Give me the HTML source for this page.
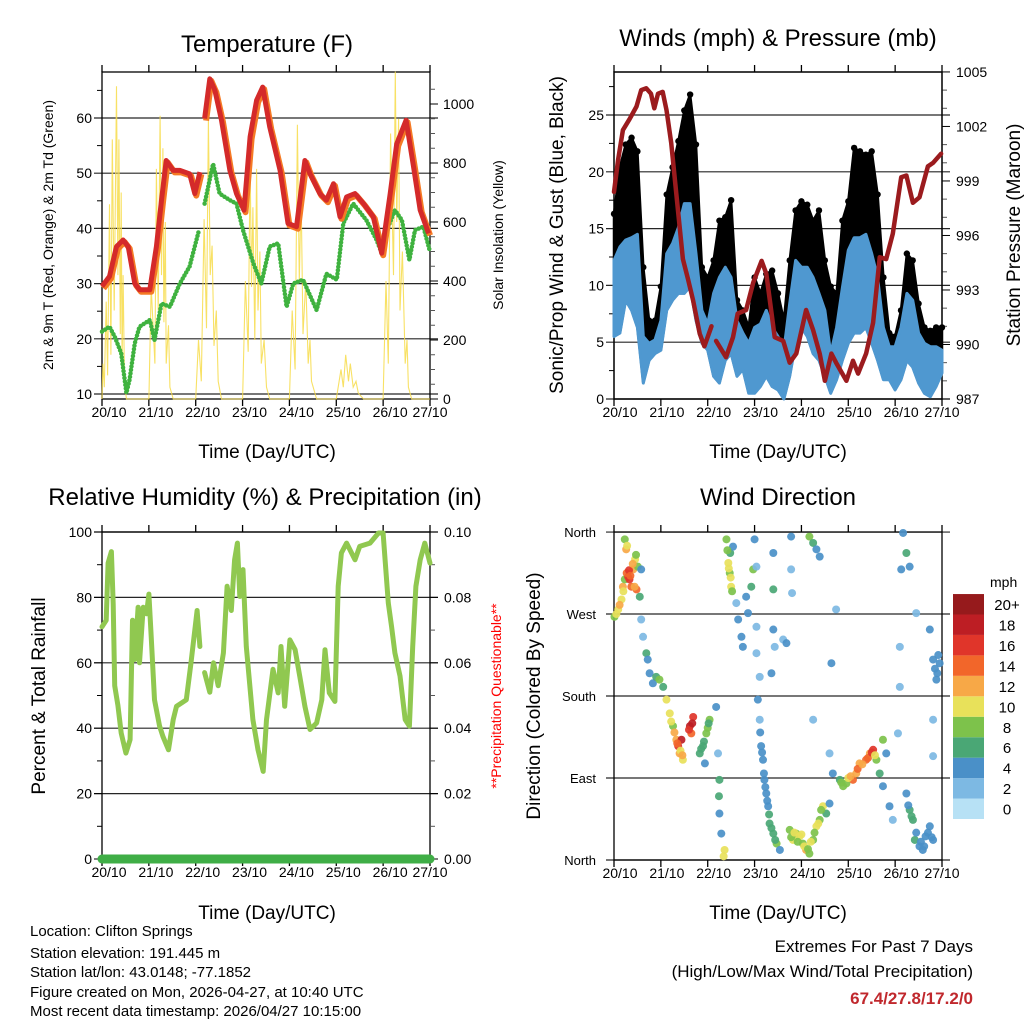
<!DOCTYPE html>
<html><head><meta charset="utf-8">
<style>
html,body{margin:0;padding:0;background:#fff;}
svg{display:block;font-family:"Liberation Sans",Arial,sans-serif;}
</style></head>
<body>
<svg id="fig" width="1024" height="1024" viewBox="0 0 1024 1024" xmlns="http://www.w3.org/2000/svg">
<rect x="0" y="0" width="1024" height="1024" fill="#fff"/>
<g id="layer"></g>
<text x="267" y="52" font-size="24" text-anchor="middle">Temperature (F)</text>
<text x="778" y="46" font-size="24" text-anchor="middle">Winds (mph) &amp; Pressure (mb)</text>
<text x="265" y="505" font-size="24" text-anchor="middle">Relative Humidity (%) &amp; Precipitation (in)</text>
<text x="778" y="505" font-size="24" text-anchor="middle">Wind Direction</text>
<text x="267" y="458" font-size="19" text-anchor="middle">Time (Day/UTC)</text>
<text x="778" y="458" font-size="19" text-anchor="middle">Time (Day/UTC)</text>
<text x="267" y="919" font-size="19" text-anchor="middle">Time (Day/UTC)</text>
<text x="778" y="919" font-size="19" text-anchor="middle">Time (Day/UTC)</text>
<text transform="translate(53,235) rotate(-90)" font-size="14" text-anchor="middle">2m &amp; 9m T (Red, Orange) &amp; 2m Td (Green)</text>
<text transform="translate(503,235) rotate(-90)" font-size="14" text-anchor="middle">Solar Insolation (Yellow)</text>
<text transform="translate(563,235) rotate(-90)" font-size="19" text-anchor="middle">Sonic/Prop Wind &amp; Gust (Blue, Black)</text>
<text transform="translate(1020,235) rotate(-90)" font-size="19" text-anchor="middle">Station Pressure (Maroon)</text>
<text transform="translate(45,696) rotate(-90)" font-size="19" text-anchor="middle">Percent &amp; Total Rainfall</text>
<text transform="translate(501,696) rotate(-90)" font-size="14" fill="#ff0000" text-anchor="middle">**Precipitation Questionable**</text>
<text transform="translate(540,696) rotate(-90)" font-size="19" text-anchor="middle">Direction (Colored By Speed)</text>
<g font-size="15">
<text x="30" y="936">Location: Clifton Springs</text>
<text x="30" y="958">Station elevation: 191.445 m</text>
<text x="30" y="977">Station lat/lon: 43.0148; -77.1852</text>
<text x="30" y="997">Figure created on Mon, 2026-04-27, at 10:40 UTC</text>
<text x="30" y="1016">Most recent data timestamp: 2026/04/27 10:15:00</text>
</g>
<g font-size="17" text-anchor="end">
<text x="973" y="952">Extremes For Past 7 Days</text>
<text x="973" y="977">(High/Low/Max Wind/Total Precipitation)</text>
<text x="973" y="1004" font-weight="bold" fill="#c0282d">67.4/27.8/17.2/0</text>
</g>
</svg>
<script>
// ---------- data ----------
const dayLabels=["20/10","21/10","22/10","23/10","24/10","25/10","26/10","27/10"];
const tempTicks=[10,20,30,40,50,60];
const solarTicks=[0,200,400,600,800,1000];
const windTicks=[0,5,10,15,20,25];
const presTicks=[987,990,993,996,999,1002,1005];
const rhTicks=[0,20,40,60,80,100];
const precipTicks=["0.00","0.02","0.04","0.06","0.08","0.10"];
const dirLabels=["North","East","South","West","North"];
const speedBins=["0","2","4","6","8","10","12","14","16","18","20+"];

const tempT1=[0,.16,.31,.45,.56,.7,.8,1.02,1.16,1.27,1.37,1.52,1.66,1.87,1.98,2.09];
const tempV1=[29.5,31.3,36.7,37.9,36.7,30,28.9,28.9,36.7,45.1,52.3,50.5,50.5,49.9,46.3,50.2];
const tempT2=[2.19,2.3,2.41,2.55,2.73,2.87,3.03,3.16,3.3,3.43,3.58,3.8,3.97,4.15,4.33,4.44,4.65,4.79,4.94,5.08,5.22,5.4,5.58,5.79,5.97,6.15,6.29,6.49,6.65,6.79,6.97];
const tempV2=[59.9,67.1,65,59.6,50.5,46.3,43.3,56.6,63.2,65.6,58.4,50.5,40.9,40.3,52.3,49.9,46.3,45.1,48.1,42.1,45.7,46.3,44.5,42.1,35.5,46.3,55.3,59.6,51.1,43.3,39.1];
const dewT1=[0,.16,.27,.41,.52,.59,.7,.8,1.02,1.12,1.27,1.45,1.66,1.87,2.07];
const dewV1=[21.3,22.2,20.4,17.4,10.2,12.6,19.2,22.2,23.4,19.8,26.4,25.8,30,33.1,39.7];
const dewT2=[2.19,2.37,2.51,2.73,2.87,3.01,3.23,3.4,3.58,3.76,3.94,4.08,4.29,4.58,4.79,5.01,5.15,5.36,5.64,5.86,5.97,6.11,6.25,6.4,6.56,6.68,6.86,6.99];
const dewV2=[44.5,51.7,46.3,45.1,44.5,39.7,33.7,30,36.7,37.3,25.8,30,30.7,25.2,31.8,30.7,40.9,44.5,41.5,37.9,35.5,40.3,43.3,41.5,34.3,39.7,40.3,36.1];
const solarT=[0,.02,.05,.09,.12,.16,.19,.22,.26,.31,.34,.36,.39,.41,.43,.45,.48,.52,
 1.0,1.05,1.13,1.16,1.2,1.24,1.27,1.3,1.32,1.35,1.37,1.42,1.45,1.52,
 2.0,2.06,2.12,2.18,2.23,2.27,2.31,2.35,2.39,2.44,2.48,2.55,
 3.0,3.06,3.12,3.16,3.19,3.22,3.26,3.3,3.33,3.37,3.4,3.46,3.51,3.58,
 4.0,4.06,4.12,4.17,4.21,4.25,4.29,4.35,4.4,4.44,4.47,4.58,
 5.0,5.1,5.15,5.2,5.26,5.3,5.36,5.42,5.47,5.58,
 6.0,6.06,6.11,6.16,6.22,6.26,6.29,6.33,6.36,6.41,6.47,6.51,6.54,6.61,7.0];
const solarV=[0,120,40,330,80,660,150,880,300,1060,420,880,220,700,120,420,60,0,
 0,380,120,780,300,960,420,850,260,600,120,250,40,0,
 0,200,60,610,240,950,420,520,180,300,60,0,
 0,400,160,810,380,650,200,780,300,500,120,200,40,0,
 0,300,100,930,400,700,220,400,120,200,60,0,
 0,100,40,150,60,120,40,60,20,0,
 0,400,120,900,420,1110,600,950,300,500,120,200,40,0,0];

const windT=[0,.125,.25,.375,.5,.625,.75,.875,1,1.125,1.25,1.375,1.5,1.625,1.75,1.875,2,2.125,2.25,2.375,2.5,2.625,2.75,2.875,3,3.125,3.25,3.375,3.5,3.625,3.75,3.875,4,4.125,4.25,4.375,4.5,4.625,4.75,4.875,5,5.125,5.25,5.375,5.5,5.625,5.75,5.875,6,6.125,6.25,6.375,6.5,6.625,6.75,6.875,7];
const gustMax=[16.3,20.4,22.4,23,21.8,11.6,6.9,6.9,9.9,18,20.4,22.7,25.4,26.8,22.4,11.6,10.7,12.2,15.7,16,17.5,8.7,7.8,6.3,10.7,9.3,11,11.3,9.3,6.9,12.2,16.6,17.4,17.1,15.7,16.6,12.2,9.9,9.3,15.7,17.4,22.1,21.8,21.5,21.8,18,10.7,5.8,5.5,7.8,12.8,12.2,8.4,6.3,6,6.3,6.3];
const windMax=[12.2,13.4,14,14.2,14.5,5.5,4.9,5.2,6.9,12.8,13.7,15.1,17.2,17.2,12.8,7.8,6.6,9.3,10.7,11.6,10.7,6.9,5.8,4.9,6.3,6.6,7.8,6.3,5.5,4.3,8.4,12.2,11.6,11.6,10.7,9.3,7.8,4,6.3,9.8,13.1,14.2,14.2,14.5,12.8,10.7,6.3,4.6,4.6,6.3,9.3,8.7,5.8,4.9,4.6,4.6,4.3];
const windMin=[5.5,5.8,8.7,7.8,6.3,1.4,3.4,4,4.3,7.8,8.7,9.3,9.3,9.9,6.9,4.9,4.3,2,1.4,3.4,4,2,2.6,0.5,0.5,1.1,2,1.1,0.8,0,2,4.9,6.3,5.5,4,3.4,2,0.5,1.7,3.4,4.9,5.8,5.8,6.3,4.9,3.4,1.7,1.7,0.8,1.7,3.4,2.8,1.4,0.5,0.2,1.1,2.3];
const presT1=[0,.09,.19,.33,.48,.58,.69,.79,.86,.94,1.04,1.12,1.22,1.33,1.47,1.58,1.69,1.83,1.93,2.08];
const presV1=[998.4,1000.2,1001.8,1002.4,1003.1,1004,1004.1,1003.8,1003,1003.8,1003.9,1002.9,1001.1,998.3,994.7,993.6,992.4,990.6,989.9,991];
const presT2=[2.18,2.39,2.54,2.64,2.82,2.97,3.15,3.25,3.43,3.61,3.75,3.89,4.1,4.25,4.39,4.5,4.64,4.74,4.96,5.1,5.21,5.38,5.53,5.67,5.81,5.95,6.13,6.24,6.38,6.52,6.7,6.81,6.98];
const presV2=[990.2,989.3,990.4,991.7,991.9,993.4,994.6,993.9,990.4,990.2,989,989.5,991.9,990.8,989.5,988,989.5,989,988,989.1,988.4,989.5,991.2,994.8,994.7,996.1,999.2,999.3,997.8,998.1,999.8,1000,1000.5];

const rhT1=[0,.09,.13,.2,.24,.27,.34,.41,.51,.6,.65,.7,.77,.8,.88,.95,1.0,1.05,1.12,1.23,1.3,1.42,1.52,1.59,1.8,1.9,2.03,2.09];
const rhV1=[71,73,90.5,94,78,53,47,38.5,32.4,36.5,73,61,77,60,77,75,81,68,48.7,40.6,37.5,33.4,42.6,46.7,48.7,60,76,65];
const rhT2=[2.19,2.3,2.38,2.48,2.59,2.67,2.76,2.83,2.89,2.94,3.01,3.08,3.22,3.33,3.44,3.51,3.65,3.76,3.82,3.9,4.01,4.12,4.22,4.33,4.44,4.58,4.69,4.76,4.85,4.97,5.04,5.11,5.22,5.4,5.5,5.72,5.9,6.0,6.11,6.18,6.25,6.36,6.47,6.56,6.63,6.7,6.79,6.89,7.0];
const rhV2=[57,51,60,53,63,83.4,76,91.5,96.6,80.3,88.5,65,42.6,33.4,26.8,42.6,58,50.8,65,46.7,67,64,56,46.7,39.6,41.6,48.7,64,50.8,48.2,83.4,93.6,96.6,91.5,95.6,96.6,99.7,99.7,78.3,71,63,56,42.6,40.6,65,83.4,91.5,96.6,90.5];
const precipT=[0,7];
const precipV=[0,0];

const dirT=[.01,.09,.16,.19,.23,.3,.33,.37,.41,.45,.48,.51,.55,.26,.23,.58,
 .58,.62,.69,.72,.76,.83,.9,.97,1.05,1.12,1.19,1.26,1.33,1.4,1.47,1.37,1.44,1.62,1.69,1.65,1.83,1.9,1.97,2.04,1.94,
 2.18,2.22,2.25,2.24,2.25,2.29,2.36,2.34,
 2.4,2.44,2.47,2.5,2.48,2.54,
 2.61,2.65,2.72,2.75,2.82,2.86,2.93,2.97,3.0,3.04,3.04,3.04,
 3.11,3.07,3.11,3.14,3.18,3.21,3.25,3.29,3.32,3.4,3.47,3.54,3.4,3.4,3.4,3.36,3.43,3.61,3.68,3.78,3.78,3.8,
 3.75,3.82,3.89,3.96,4.03,4.1,4.17,4.25,4.32,4.39,4.46,4.53,4.6,4.6,4.67,
 4.17,4.25,4.32,4.39,4.25,4.64,4.74,
 4.82,4.89,4.96,5.1,5.17,5.24,5.38,5.46,5.53,5.6,5.67,5.74,5.81,
 5.74,5.88,5.95,6.06,6.1,6.1,6.13,6.17,6.24,6.31,6.24,6.31,6.38,6.42,6.52,6.59,6.65,6.74,6.81,6.74,6.81,6.88,6.95,6.81,6.81,6.45,
 .05,.12,.2,.27,.32,.35,.4,.44,.28,.47,
 1.22,1.29,1.35,1.42,1.46,1.6,1.67,1.86,1.92,2.0,2.02,
 3.78,3.85,3.92,4.0,4.06,4.14,4.2,4.28,4.36,4.42,
 4.85,5.0,5.05,5.2,5.3,5.42,5.5,5.57,
 6.28,6.35,6.45,6.55,6.62,6.7,6.78,6.85,6.9,6.92,
 3.12,3.16,3.2,3.23,3.27,3.31,3.36,3.44,
 2.42,2.45,2.49,2.52];
const dirDeg=[267,275,286,300,308,311,308,300,319,330,297,322,289,341,352,319,
 264,245,227,220,205,194,201,198,190,176,161,147,132,117,110,125,132,147,157,139,117,125,139,154,106,
 168,117,88,70,51,29,11,4,
 352,326,315,300,337,344,
 282,264,245,234,289,271,300,319,352,322,256,227,
 201,176,154,125,110,88,73,59,40,29,18,11,337,297,253,205,234,242,238,355,319,293,
 33,22,29,26,18,11,7,22,37,44,59,51,62,117,95,
 355,348,341,333,154,216,275,
 88,81,84,88,95,106,110,117,121,110,95,132,117,
 81,59,44,139,190,234,319,359,337,322,73,55,44,22,15,11,26,37,22,253,220,198,216,154,114,271,
 270,280,295,315,318,312,325,300,345,335,
 152,140,128,120,115,143,150,122,130,145,150,
 25,30,20,28,15,12,20,30,40,55,
 85,90,92,100,105,112,118,115,
 60,48,30,20,15,30,25,210,205,225,
 140,118,95,80,65,50,35,22,
 340,320,310,295];
const dirSpd=[8,10,10,12,8,16,16,14,12,10,14,8,6,12,8,4,
 2,2,6,4,4,4,6,8,6,10,10,8,12,12,10,16,18,18,16,14,6,6,8,8,4,
 4,2,6,6,4,4,10,10,
 8,10,8,10,6,4,
 2,4,4,4,4,4,6,8,4,2,2,2,
 2,4,2,4,4,4,4,4,6,6,8,4,4,6,4,4,2,2,4,4,2,2,
 8,10,8,10,8,12,8,8,10,8,10,6,4,2,4,
 8,6,4,4,2,4,2,
 6,8,8,14,12,12,14,12,16,8,6,8,4,
 4,4,2,2,2,2,4,4,6,4,4,6,6,6,4,4,4,4,4,4,4,4,4,2,2,2,
 10,12,10,14,16,14,12,12,10,8,
 10,12,14,10,12,16,18,6,6,8,6,
 8,10,8,10,10,8,10,8,10,8,
 8,10,12,14,12,14,16,10,
 4,6,4,4,4,4,4,4,4,4,
 4,4,4,4,4,6,6,6,
 8,10,10,8];

const speedColors=["#b7e1f5","#7db9e3","#4a90c8","#4aa775","#7dc24b","#e8e15a","#f7a847","#f2662a","#e0352a","#bd1e24","#961a1c"];

// ---------- helpers ----------
const NS="http://www.w3.org/2000/svg";
const layer=document.getElementById('layer');
function mk(tag,attrs,parent){const e=document.createElementNS(NS,tag);for(const k in attrs)e.setAttribute(k,attrs[k]);(parent||layer).appendChild(e);return e;}
function mkText(str,attrs,parent){const e=mk('text',attrs,parent);e.textContent=str;return e;}

const P1={x0:102,x1:430,y0:72,y1:399};
const P2={x0:614,x1:942,y0:72,y1:399};
const P3={x0:102,x1:430,y0:532,y1:859};
const P4={x0:614,x1:942,y0:532,y1:860};
function xs(P){return t=>P.x0+t*(P.x1-P.x0)/7;}
const x1s=xs(P1),x2s=xs(P2),x3s=xs(P3),x4s=xs(P4);
const yTemp=v=>394-(v-10)*5.52;
const ySolar=w=>399-w*0.295;
const yWind=v=>399-v*11.36;
const yPres=p=>399-(p-987)*18.17;
const yRH=v=>859-v*3.27;
const yPrecip=v=>859-v*1000*3.27;
const yDir=d=>860-d*0.911;

function pathOf(T,V,xf,yf){return T.map((t,i)=>(i?'L':'M')+xf(t).toFixed(1)+' '+yf(V[i]).toFixed(1)).join(' ');}
function bandPath(T,U,L,xf,yf){
  let p='M'+T.map((t,i)=>xf(t).toFixed(1)+' '+yf(U[i]).toFixed(1)).join(' L');
  for(let i=T.length-1;i>=0;i--)p+=' L'+xf(T[i]).toFixed(1)+' '+yf(L[i]).toFixed(1);
  return p+' Z';
}

function frame(P,name,xoffs){
  const g=mk('g',{});
  
  
  for(let d=0;d<=7;d++){
    const x=P.x0+d*(P.x1-P.x0)/7;
    mk('line',{x1:x,y1:P.y1,x2:x,y2:P.y1+7,stroke:'#000','stroke-width':1.3},g);
    mk('line',{x1:x,y1:P.y0,x2:x,y2:P.y0-7,stroke:'#000','stroke-width':1.3},g);
    const lab=mkText(dayLabels[d],{x:x+(d<7?xoffs:0),y:P.y1+18,'font-size':14,'text-anchor':'middle'},g);
    
    
  }
  mk('rect',{x:P.x0,y:P.y0,width:P.x1-P.x0,height:P.y1-P.y0,fill:'none',stroke:'#000','stroke-width':1.3},g);
  return g;
}
function hgrid(P,ys,g){ys.forEach(y=>mk('line',{x1:P.x0-8,y1:y,x2:P.x1+8,y2:y,stroke:'#000','stroke-width':1.2,opacity:.85},g));}

// ---------- Panel 1 temperature ----------
const g1=frame(P1,'temperature',7);
hgrid(P1,tempTicks.map(yTemp),g1);
tempTicks.forEach(v=>{const t=mkText(String(v),{x:P1.x0-10,y:yTemp(v)+5,'font-size':14,'text-anchor':'end'},g1);});
for(let v=15;v<68;v+=10)mk('line',{x1:P1.x0-5,y1:yTemp(v),x2:P1.x0,y2:yTemp(v),stroke:'#000'},g1);
solarTicks.forEach(v=>{mk('line',{x1:P1.x1,y1:ySolar(v),x2:P1.x1+8,y2:ySolar(v),stroke:'#000'},g1);const t=mkText(String(v),{x:P1.x1+13,y:ySolar(v)+5,'font-size':14},g1);});
for(let v=50;v<1100;v+=50)if(v%200)mk('line',{x1:P1.x1,y1:ySolar(v),x2:P1.x1+5,y2:ySolar(v),stroke:'#555'},g1);
const solar=mk('path',{d:pathOf(solarT,solarV,x1s,ySolar),fill:'none',stroke:'#f7dc4a','stroke-width':1.1,opacity:.85});


[[dewT1,dewV1],[dewT2,dewV2]].forEach(([T,V])=>{const p=mk('path',{d:pathOf(T,V,x1s,yTemp),fill:'none',stroke:'#3fb23f','stroke-width':4.5,'stroke-linecap':'round','stroke-linejoin':'round','stroke-dasharray':'0 3.5'});

});
[[tempT1,tempV1],[tempT2,tempV2]].forEach(([T,V])=>{
 const o=mk('path',{d:pathOf(T,V,x1s,yTemp),fill:'none',stroke:'#f57a25','stroke-width':6,'stroke-linejoin':'round',transform:'translate(1.5,2)'});
 
 
 const r=mk('path',{d:pathOf(T,V,x1s,yTemp),fill:'none',stroke:'#d42a2a','stroke-width':5,'stroke-linejoin':'round'});
 
 
});

// ---------- Panel 2 winds ----------
const g2=frame(P2,'winds',6);
hgrid(P2,windTicks.map(yWind),g2);
windTicks.forEach(v=>{const t=mkText(String(v),{x:P2.x0-10,y:yWind(v)+5,'font-size':14,'text-anchor':'end'},g2);});
for(let v=2.5;v<28;v+=5)mk('line',{x1:P2.x0-5,y1:yWind(v),x2:P2.x0,y2:yWind(v),stroke:'#000'},g2);
presTicks.forEach(v=>{mk('line',{x1:P2.x1,y1:yPres(v),x2:P2.x1+8,y2:yPres(v),stroke:'#000'},g2);const t=mkText(String(v),{x:P2.x1+14,y:yPres(v)+5,'font-size':14},g2);});
for(let v=988;v<1005;v++)if((v-987)%3)mk('line',{x1:P2.x1,y1:yPres(v),x2:P2.x1+5,y2:yPres(v),stroke:'#555'},g2);
const gust=mk('path',{d:bandPath(windT,gustMax,windMin,x2s,yWind),fill:'#000',stroke:'#000','stroke-width':2.5,'stroke-linejoin':'round'});


windT.forEach((t,i)=>{const c=mk('circle',{cx:x2s(t),cy:yWind(gustMax[i]),r:3.2,fill:'#000'});

});
const wind=mk('path',{d:bandPath(windT,windMax,windMin,x2s,yWind),fill:'#4f98d0',stroke:'#4f98d0','stroke-width':3,'stroke-linejoin':'round'});


[[presT1,presV1],[presT2,presV2]].forEach(([T,V])=>{const p=mk('path',{d:pathOf(T,V,x2s,yPres),fill:'none',stroke:'#9b1b1e','stroke-width':4.5,'stroke-linejoin':'round','stroke-linecap':'round'});

});
mk('rect',{x:P2.x0,y:P2.y0,width:P2.x1-P2.x0,height:P2.y1-P2.y0,fill:'none',stroke:'#000','stroke-width':1.3},g2);

// ---------- Panel 3 RH ----------
const g3=frame(P3,'humidity',7);
hgrid(P3,rhTicks.filter(v=>v>0).map(yRH),g3);
rhTicks.forEach(v=>{mk('line',{x1:P3.x0-8,y1:yRH(v),x2:P3.x0,y2:yRH(v),stroke:'#000'},g3);const t=mkText(String(v),{x:P3.x0-10,y:yRH(v)+5,'font-size':14,'text-anchor':'end'},g3);});
for(let v=10;v<100;v+=20)mk('line',{x1:P3.x0-5,y1:yRH(v),x2:P3.x0,y2:yRH(v),stroke:'#000'},g3);
precipTicks.forEach(s=>{const v=parseFloat(s);mk('line',{x1:P3.x1,y1:yPrecip(v),x2:P3.x1+8,y2:yPrecip(v),stroke:'#000'},g3);const t=mkText(s,{x:P3.x1+14,y:yPrecip(v)+5,'font-size':14},g3);});
for(let v=0.01;v<0.1;v+=0.02)mk('line',{x1:P3.x1,y1:yPrecip(v),x2:P3.x1+5,y2:yPrecip(v),stroke:'#555'},g3);
[[rhT1,rhV1],[rhT2,rhV2]].forEach(([T,V])=>{const p=mk('path',{d:pathOf(T,V,x3s,yRH),fill:'none',stroke:'#90c850','stroke-width':5,'stroke-linejoin':'round','stroke-linecap':'round'});

});
const pr=mk('path',{d:pathOf(precipT,precipV,x3s,yPrecip),fill:'none',stroke:'#3fae46','stroke-width':9,'stroke-linecap':'round'});



// ---------- Panel 4 wind direction ----------
const g4=frame(P4,'wind-direction',6);
hgrid(P4,[0,90,180,270,360].map(yDir),g4);
dirLabels.forEach((s,i)=>{const t=mkText(s,{x:P4.x0-18,y:yDir(i*90)+5,'font-size':13,'text-anchor':'end'},g4);});
dirT.forEach((t,i)=>{
  const bin=Math.min(10,Math.floor(dirSpd[i]/2));
  const c=mk('circle',{cx:x4s(t),cy:yDir(dirDeg[i]),r:4,fill:speedColors[bin],opacity:.92});
  
  
});
const lg=mk('g',{});


mkText('mph',{x:990,y:587,'font-size':14},lg);
speedBins.forEach((s,i)=>{
  const y=819-(i+1)*20.45;
  const r=mk('rect',{x:953,y:y,width:31,height:20.45,fill:speedColors[i]},lg);
  
  
  const t=mkText(s,{x:1007,y:y+16,'font-size':15,'text-anchor':'middle'},lg);
  
  
});
</script>
</body></html>
